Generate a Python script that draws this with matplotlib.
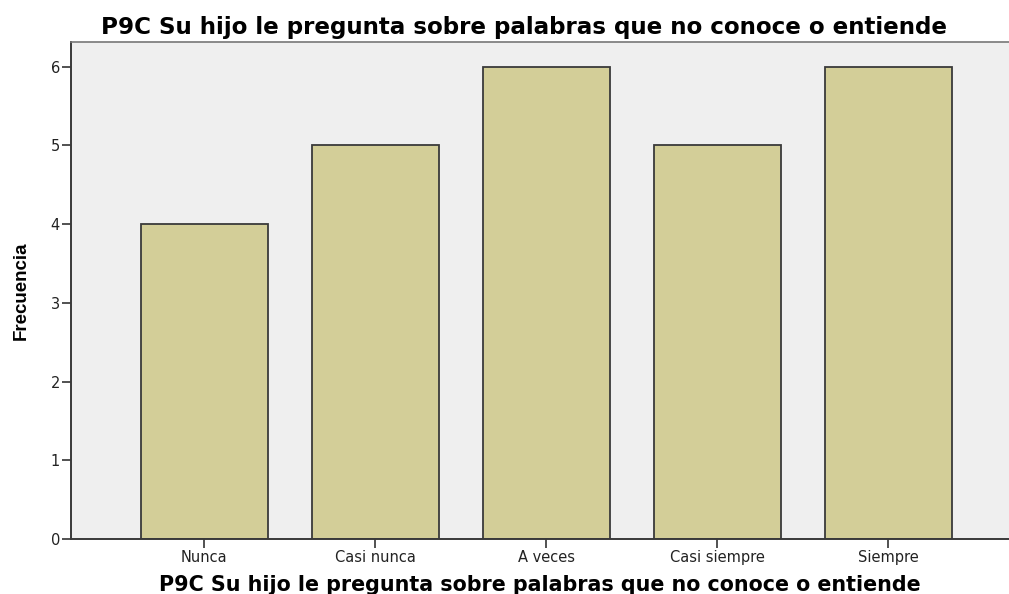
import matplotlib
matplotlib.use("Agg")
import matplotlib.pyplot as plt

categories = ["Nunca", "Casi nunca", "A veces", "Casi siempre", "Siempre"]
values = [4, 5, 6, 5, 6]
yticks = [0, 1, 2, 3, 4, 5, 6]
title = "P9C Su hijo le pregunta sobre palabras que no conoce o entiende"

fig = plt.figure(figsize=(10.09, 5.94), dpi=100)
ax = fig.add_axes([0.0704, 0.0926, 0.9296, 0.8375])
ax.set_facecolor("#EFEFEF")
x = list(range(len(categories)))
ax.bar(x, values, width=0.745, color="#D3CE98", edgecolor="#3A3A3A", linewidth=1.3, zorder=2)
ax.set_xlim(-0.78, 4.705)
ax.set_ylim(0, 6.32)
ax.set_xticks(x)
ax.set_xticklabels(categories, fontsize=10.5, family="DejaVu Sans", color="#222222")
ax.set_yticks(yticks)
ax.set_yticklabels([str(v) for v in yticks], fontsize=10.5, family="DejaVu Sans", color="#222222")
ax.tick_params(axis="both", direction="out", length=6.5, width=1.2, color="#333333", pad=1.5)
ax.spines["right"].set_visible(False)
ax.spines["left"].set_color("#3A3A3A")
ax.spines["left"].set_linewidth(1.4)
ax.spines["bottom"].set_color("#3A3A3A")
ax.spines["bottom"].set_linewidth(1.4)
ax.spines["top"].set_color("#777777")
ax.spines["top"].set_linewidth(1.2)

fig.text(0.5195, 0.9545, title, ha="center", va="center", fontsize=16.6,
         fontweight="bold", family="DejaVu Sans")
ax.set_xlabel(title, fontsize=14.9, fontweight="bold", family="DejaVu Sans", labelpad=7)
ax.set_ylabel("Frecuencia", fontsize=13.5, fontweight="bold", family="Liberation Sans", labelpad=15)

fig.savefig("out.png", dpi=100)
